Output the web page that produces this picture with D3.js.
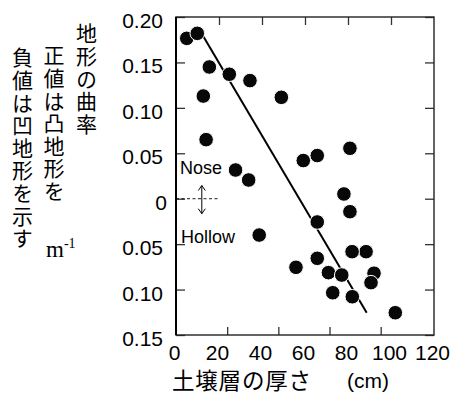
<!DOCTYPE html>
<html><head><meta charset="utf-8">
<script src="https://cdn.jsdelivr.net/npm/d3@7"></script>
<style>
body{margin:0;background:#fff}
svg{display:block}
text{font-family:"Liberation Sans",Arial,sans-serif;fill:#000}
text.jp{font-family:"Noto Sans CJK JP",sans-serif}
text.serif{font-family:"Liberation Serif","Times New Roman",serif}
</style></head><body>
<svg id="chart" width="453" height="400"></svg>
<script>
// soil layer thickness (cm) vs. slope curvature (m^-1)
const THICK = [5.0, 9.9, 15.5, 24.8, 34.4, 49.0, 12.7, 14.0, 27.7, 33.8,
  59.2, 65.7, 80.9, 78.1, 80.9, 65.7, 38.7, 88.4, 81.9, 65.7,
  55.8, 70.9, 77.1, 92.1, 90.7, 72.9, 82.0, 102.0];
const CURV = [0.1765, 0.182, 0.145, 0.137, 0.130, 0.1116, 0.113, 0.065, 0.0316, 0.0206,
  0.042, 0.0475, 0.0555, 0.0052, -0.0143, -0.0256, -0.040, -0.0583, -0.0583, -0.0656,
  -0.0755, -0.0814, -0.084, -0.082, -0.0924, -0.1035, -0.1079, -0.1255];
const FIT_X = [12.4, 88.7];
const FIT_Y = [0.180, -0.1255];

const X_TICKS = [0, 20, 40, 60, 80, 100, 120];
const X_TOP_TICKS = [20, 40, 60, 80, 100];
const X_BOTTOM_TICKS = [23.8, 47.6, 71.4, 95.2];   // bottom tick marks in the scan sit off the labels
const Y_TICKS = [0.20, 0.15, 0.10, 0.05, 0, -0.05, -0.10, -0.15];
const Y_TICK_LABELS = ['0.20', '0.15', '0.10', '0.05', '0', '0.05', '0.10', '0.15'];
const Y_TITLE_COLS = ['地形の曲率', '正値は凸地形を', '負値は凹地形を示す'];

const svg = d3.select('#chart');
const L = 176, R = 434, T = 17, B = 335;
const x = d3.scaleLinear().domain([0, 120]).range([L, R]);
const y = d3.scaleLinear().domain([-0.15, 0.20]).range([B, T]);

const tickStyle = g => {
  g.select('.domain').remove();
  g.selectAll('.tick line').attr('stroke', '#333').attr('stroke-width', 1.3);
};

// left axis: inward ticks + labels
svg.append('g').attr('transform', `translate(${L},0)`)
  .call(d3.axisLeft(y).tickValues(Y_TICKS).tickSize(-9).tickPadding(13)
    .tickFormat((d, i) => Y_TICK_LABELS[i]))
  .call(tickStyle)
  .call(g => g.selectAll('.tick text')
    .attr('font-size', 21).attr('fill', '#000').attr('dy', '0.5em')
    .attr('x', d => d === 0 ? -9 : -13));

svg.append('g').attr('transform', `translate(${R},0)`)
  .call(d3.axisRight(y).tickValues(Y_TICKS).tickSize(-9).tickFormat(''))
  .call(tickStyle);

svg.append('g').attr('transform', `translate(0,${T})`)
  .call(d3.axisTop(x).tickValues(X_TOP_TICKS).tickSize(-8).tickFormat(''))
  .call(tickStyle);

svg.append('g').attr('transform', `translate(0,${B})`)
  .call(d3.axisBottom(x).tickValues(X_BOTTOM_TICKS).tickSize(-8).tickFormat(''))
  .call(tickStyle);

svg.append('g').attr('transform', `translate(0,${B})`)
  .call(d3.axisBottom(x).tickValues(X_TICKS).tickSize(0).tickPadding(10).tickFormat(d3.format('d')))
  .call(g => g.select('.domain').remove())
  .call(g => g.selectAll('.tick text')
    .attr('font-size', 21).attr('fill', '#000').attr('dx', -2));

// frame
svg.append('rect').attr('x', L).attr('y', T).attr('width', R - L).attr('height', B - T)
  .attr('fill', 'none').attr('stroke', '#222').attr('stroke-width', 1.4);
svg.append('line').attr('x1', L).attr('x2', L).attr('y1', T).attr('y2', B)
  .attr('stroke', '#000').attr('stroke-width', 2);

// Nose / Hollow annotation
svg.append('line').attr('x1', x(0)).attr('x2', x(19.5)).attr('y1', y(0)).attr('y2', y(0))
  .attr('stroke', '#000').attr('stroke-width', 0.9).attr('stroke-dasharray', '3,2.5');
const ax = x(12), ay1 = y(0.0145), ay2 = y(-0.0165);
svg.append('path')
  .attr('d', `M${ax},${ay1}V${ay2}M${ax - 3.5},${ay1 + 5}L${ax},${ay1}L${ax + 3.5},${ay1 + 5}` +
    `M${ax - 3.5},${ay2 - 5}L${ax},${ay2}L${ax + 3.5},${ay2 - 5}`)
  .attr('fill', 'none').attr('stroke', '#000').attr('stroke-width', 1);
svg.append('text').attr('x', 180).attr('y', 174).attr('font-size', 18).text('Nose');
svg.append('text').attr('x', 181).attr('y', 243).attr('font-size', 18).text('Hollow');

// regression line
svg.append('line')
  .attr('x1', x(FIT_X[0])).attr('y1', y(FIT_Y[0]))
  .attr('x2', x(FIT_X[1])).attr('y2', y(FIT_Y[1]))
  .attr('stroke', '#000').attr('stroke-width', 2);

// points
svg.append('g').selectAll('circle').data(THICK).join('circle')
  .attr('cx', d => x(d)).attr('cy', (d, i) => y(CURV[i])).attr('r', 7.3)
  .attr('fill', '#080808').attr('stroke', '#fff').attr('stroke-width', 1);

// vertical Japanese y title, one column per line
const colX = [86.5, 54, 22.5], colTop = [23, 45, 47];
Y_TITLE_COLS.forEach((s, c) => {
  svg.append('text').attr('class', 'jp')
    .attr('x', colX[c]).attr('y', colTop[c])
    .attr('writing-mode', 'tb')
    .style('writing-mode', 'vertical-rl')
    .style('letter-spacing', '1.6px')
    .attr('font-size', 21).text(s);
});
const unit = svg.append('text').attr('class', 'serif').attr('x', 46).attr('y', 257)
  .attr('font-size', 23);
unit.append('tspan').text('m');
unit.append('tspan').attr('font-size', 14).attr('dy', -9).text('-1');

// x title
svg.append('text').attr('class', 'jp').attr('x', 172).attr('y', 389).attr('font-size', 22.5)
  .style('letter-spacing', '0.8px').text('土壌層の厚さ');
svg.append('text').attr('x', 347).attr('y', 388).attr('font-size', 21).text('(cm)');
</script>
</body></html>
